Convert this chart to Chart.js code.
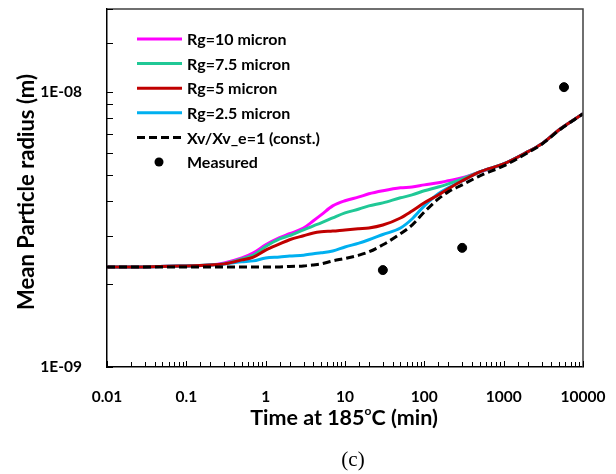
<!DOCTYPE html>
<html>
<head>
<meta charset="utf-8">
<script src="https://cdn.jsdelivr.net/npm/chart.js@4.4.1/dist/chart.umd.min.js"></script>
<style>
  html, body { margin: 0; padding: 0; background: #fff; }
  canvas { display: block; }
</style>
</head>
<body>
<canvas id="radiusChart" width="616" height="474"></canvas>
<script>
// Time at 185C (min)
const times = [0.01, 0.03, 0.1, 0.2, 0.3, 0.5, 0.7, 1, 1.5, 2, 3, 4, 5, 7, 10, 15, 20, 30, 50, 70, 100, 150, 200, 300, 500, 1000, 2000, 3000, 5000, 10000];

// Mean particle radius (m)
const rg10 = [2.31e-9, 2.31e-9, 2.33e-9, 2.35e-9, 2.39e-9, 2.49e-9, 2.60e-9, 2.78e-9, 2.95e-9, 3.05e-9, 3.20e-9, 3.40e-9, 3.57e-9, 3.85e-9, 4.02e-9, 4.15e-9, 4.26e-9, 4.37e-9, 4.48e-9, 4.51e-9, 4.59e-9, 4.67e-9, 4.75e-9, 4.87e-9, 5.12e-9, 5.47e-9, 6.05e-9, 6.47e-9, 7.28e-9, 8.32e-9];
const rg75 = [2.31e-9, 2.31e-9, 2.33e-9, 2.35e-9, 2.37e-9, 2.47e-9, 2.55e-9, 2.74e-9, 2.92e-9, 3.00e-9, 3.15e-9, 3.26e-9, 3.34e-9, 3.48e-9, 3.63e-9, 3.75e-9, 3.85e-9, 3.95e-9, 4.12e-9, 4.22e-9, 4.37e-9, 4.51e-9, 4.63e-9, 4.83e-9, 5.12e-9, 5.47e-9, 6.05e-9, 6.47e-9, 7.28e-9, 8.32e-9];
const rg5 = [2.31e-9, 2.31e-9, 2.33e-9, 2.35e-9, 2.37e-9, 2.45e-9, 2.51e-9, 2.66e-9, 2.80e-9, 2.90e-9, 3.00e-9, 3.07e-9, 3.10e-9, 3.12e-9, 3.15e-9, 3.18e-9, 3.20e-9, 3.28e-9, 3.48e-9, 3.69e-9, 3.95e-9, 4.22e-9, 4.44e-9, 4.75e-9, 5.12e-9, 5.47e-9, 6.05e-9, 6.47e-9, 7.28e-9, 8.32e-9];
const rg25 = [2.31e-9, 2.31e-9, 2.33e-9, 2.35e-9, 2.37e-9, 2.41e-9, 2.43e-9, 2.49e-9, 2.51e-9, 2.53e-9, 2.55e-9, 2.58e-9, 2.60e-9, 2.64e-9, 2.73e-9, 2.82e-9, 2.90e-9, 3.03e-9, 3.20e-9, 3.45e-9, 3.85e-9, 4.26e-9, 4.48e-9, 4.75e-9, 5.12e-9, 5.47e-9, 6.05e-9, 6.47e-9, 7.28e-9, 8.32e-9];
const constXv = [2.31e-9, 2.31e-9, 2.31e-9, 2.31e-9, 2.31e-9, 2.31e-9, 2.31e-9, 2.31e-9, 2.31e-9, 2.32e-9, 2.33e-9, 2.35e-9, 2.37e-9, 2.43e-9, 2.48e-9, 2.55e-9, 2.62e-9, 2.78e-9, 3.05e-9, 3.28e-9, 3.66e-9, 4.08e-9, 4.33e-9, 4.59e-9, 4.95e-9, 5.38e-9, 6.00e-9, 6.44e-9, 7.25e-9, 8.32e-9];

// Measured points
const measuredTimes = [30, 300, 5760];
const measuredRadius = [2.25e-9, 2.71e-9, 1.04e-8];

const toPoints = (xs, ys) => xs.map((x, i) => ({ x: x, y: ys[i] }));

const lineSet = (label, values, color, order) => ({
  label: label,
  data: toPoints(times, values),
  borderColor: color,
  backgroundColor: color,
  borderWidth: 3,
  pointRadius: 0,
  cubicInterpolationMode: "monotone",
  order: order,
});

const datasets = [
  lineSet("Rg=10 micron", rg10, "#FF00FF", 5),
  lineSet("Rg=7.5 micron", rg75, "#20C896", 4),
  lineSet("Rg=5 micron", rg5, "#C00000", 2),
  lineSet("Rg=2.5 micron", rg25, "#00B0F0", 3),
  Object.assign(lineSet("Xv/Xv_e=1 (const.)", constXv, "#000000", 1), { borderDash: [8, 4] }),
  {
    label: "Measured",
    data: toPoints(measuredTimes, measuredRadius),
    showLine: false,
    pointRadius: 4.5,
    pointBackgroundColor: "#000",
    pointBorderColor: "#000",
    borderColor: "#000",
    order: 0,
  },
];

const tickFont = { family: "Lato", size: 15.5, weight: "bold" };

const isDecade = (v) => Math.abs(Math.log10(v) - Math.round(Math.log10(v))) < 1e-6;

// drop the label overflow padding so the plot box sits where we put it
const noPadding = (scale) => {
  scale.paddingTop = 0;
  scale.paddingBottom = 0;
  scale.paddingLeft = 0;
  scale.paddingRight = 0;
};

// inward tick marks, frame, legend, titles
const decorations = {
  id: "decorations",
  afterDraw(chart) {
    const ctx = chart.ctx;
    const area = chart.chartArea;
    const xs = chart.scales.x;
    const ys = chart.scales.y;
    ctx.save();

    // frame top and right
    ctx.strokeStyle = "#404040";
    ctx.lineWidth = 1.5;
    ctx.beginPath();
    ctx.moveTo(area.left, area.top);
    ctx.lineTo(area.right, area.top);
    ctx.lineTo(area.right, area.bottom);
    ctx.stroke();

    // tick marks pointing inward
    ctx.strokeStyle = "#000";
    ctx.lineWidth = 1;
    xs.ticks.forEach((t) => {
      const px = Math.round(xs.getPixelForValue(t.value)) + 0.5;
      const len = isDecade(t.value) ? 6 : 5;
      ctx.beginPath();
      ctx.moveTo(px, area.bottom);
      ctx.lineTo(px, area.bottom - len);
      ctx.stroke();
    });
    ys.ticks.forEach((t) => {
      const py = Math.round(ys.getPixelForValue(t.value)) + 0.5;
      ctx.beginPath();
      ctx.moveTo(area.left, py);
      ctx.lineTo(area.left + 6, py);
      ctx.stroke();
    });

    // legend inside the plot
    ctx.font = "bold 16px Lato";
    ctx.textBaseline = "middle";
    ctx.textAlign = "left";
    chart.data.datasets.forEach((ds, i) => {
      const y = 39 + i * 24.6;
      ctx.fillStyle = "#000";
      if (ds.showLine === false) {
        ctx.beginPath();
        ctx.arc(159, y, 4.5, 0, Math.PI * 2);
        ctx.fill();
      } else {
        ctx.strokeStyle = ds.borderColor;
        ctx.lineWidth = 3;
        ctx.setLineDash(ds.borderDash || []);
        ctx.beginPath();
        ctx.moveTo(137, y);
        ctx.lineTo(182, y);
        ctx.stroke();
        ctx.setLineDash([]);
      }
      ctx.fillStyle = "#000";
      ctx.fillText(ds.label, 187, y + 1);
    });

    // y axis title
    ctx.save();
    ctx.translate(27, 192);
    ctx.rotate(-Math.PI / 2);
    ctx.font = "bold 22px Lato";
    ctx.textAlign = "center";
    ctx.fillText("Mean Particle radius (m)", 0, 0);
    ctx.restore();

    // x axis title with superscript o
    const parts = [
      { text: "Time at 185", font: "bold 21.5px Lato", dy: 0 },
      { text: "o", font: "bold 12px Lato", dy: -7 },
      { text: "C (min)", font: "bold 21.5px Lato", dy: 0 },
    ];
    let total = 0;
    parts.forEach((p) => { ctx.font = p.font; p.w = ctx.measureText(p.text).width; total += p.w; });
    let x = 344 - total / 2;
    ctx.textAlign = "left";
    parts.forEach((p) => {
      ctx.font = p.font;
      ctx.fillText(p.text, x, 418 + p.dy);
      x += p.w;
    });

    // panel label
    ctx.font = "21px 'Liberation Serif'";
    ctx.textAlign = "center";
    ctx.fillText("(c)", 353, 460);

    ctx.restore();
  },
};

new Chart(document.getElementById("radiusChart"), {
  type: "line",
  data: { datasets: datasets },
  options: {
    responsive: false,
    animation: false,
    layout: { padding: { top: 9, right: 33, bottom: 0, left: 0 } },
    plugins: { legend: { display: false }, tooltip: { enabled: false } },
    scales: {
      x: {
        type: "logarithmic",
        min: 0.01,
        max: 10000,
        grid: { display: false },
        border: { color: "#000", width: 1.5 },
        ticks: {
          autoSkip: false,
          maxRotation: 0,
          padding: 13,
          color: "#000",
          font: tickFont,
          callback: (v) => {
            if (!isDecade(v)) return "";
            const e = Math.round(Math.log10(v));
            return e < 0 ? Math.pow(10, e).toFixed(-e) : String(Math.pow(10, e));
          },
        },
        afterFit: (scale) => { scale.height = 107; noPadding(scale); },
      },
      y: {
        type: "logarithmic",
        min: 1e-9,
        max: 2e-8,
        grid: { display: false },
        border: { color: "#000", width: 1.5 },
        ticks: {
          autoSkip: false,
          padding: 17,
          color: "#000",
          font: tickFont,
          callback: (v) => {
            if (!isDecade(v)) return "";
            const e = Math.round(Math.log10(v));
            return "1E-" + String(-e).padStart(2, "0");
          },
        },
        afterFit: (scale) => { scale.width = 107; noPadding(scale); },
      },
    },
  },
  plugins: [decorations],
});
</script>
</body>
</html>
